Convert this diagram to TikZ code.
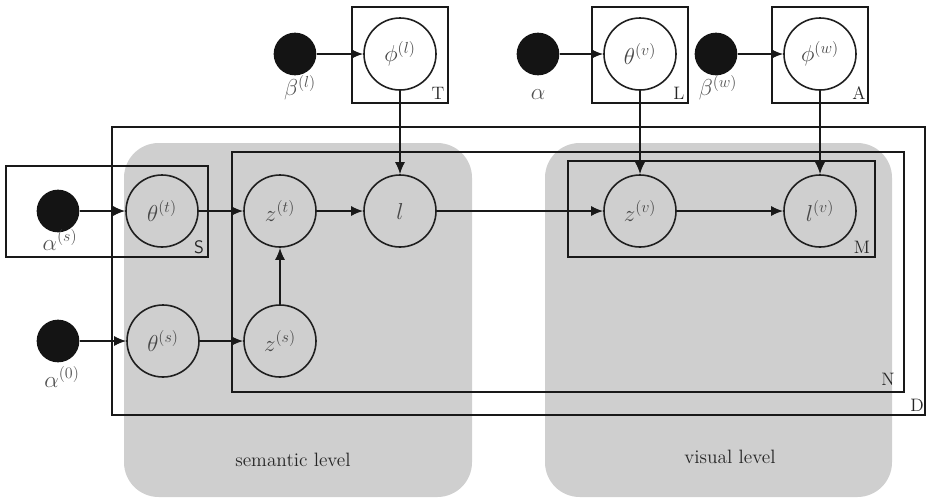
\documentclass[tikz,border=0pt]{standalone}
\usetikzlibrary{arrows.meta}
\begin{document}
\begin{tikzpicture}[x=0.75pt,y=-0.75pt,
 var/.style={circle,draw=black!88,line width=1.2pt,minimum size=54pt,inner sep=0pt,font=\fontsize{17}{19}\selectfont,text=black!72},
 hyper/.style={circle,fill=black!92,minimum size=32pt,inner sep=0pt},
 arr/.style={-{Latex[length=9pt,width=7.5pt]},line width=1.2pt,draw=black!90},
 plate/.style={draw=black!90,line width=1.05pt},
 lab/.style={font=\fontsize{17}{19}\selectfont,text=black!68},
 plab/.style={font=\fontsize{13.5}{15}\selectfont,text=black!85,inner sep=0pt},
 region/.style={fill=black!19,rounded corners=26pt},
 rlab/.style={font=\fontsize{14.5}{16}\selectfont,text=black!85}
]
\useasboundingbox (0,0) rectangle (929,497);
% shaded regions
\fill[region] (124,143) rectangle (472,497);
\fill[region] (545,143) rectangle (892,497);
\node[rlab] (semlab) at (293,460) {semantic level};
\node[rlab] (vislab) at (730,457) {visual level};
% plates
\draw[plate] (352,7) rectangle (448,103);
\draw[plate] (592,7) rectangle (688,103);
\draw[plate] (772,7) rectangle (868,103);
\draw[plate] (112,127) rectangle (925,415);
\draw[plate] (232,152) rectangle (904,392);
\draw[plate] (6,166) rectangle (208,257);
\draw[plate] (568,161) rectangle (875,257);
\node[plab] (pT) at (438,93) {T};
\node[plab] (pL) at (679,93) {L};
\node[plab] (pA) at (859,93) {A};
\node[plab] (pD) at (917,405) {D};
\node[plab] (pN) at (888,379) {N};
\node[plab,font=\fontsize{13.5}{15}\selectfont\sffamily] (pS) at (199,247) {S};
\node[plab] (pM) at (862,247) {M};
% top row
\node[hyper] (betal) at (295,54) {};
\node[var] (phil) at (400,54) {$\phi^{(l)}$};
\node[hyper] (alpha) at (538,54) {};
\node[var] (thetav) at (640,54) {$\theta^{(v)}$};
\node[hyper] (betaw) at (716,54) {};
\node[var] (phiw) at (820,54) {$\phi^{(w)}$};
\node[lab] (betallab) at (300,88) {$\beta^{(l)}$};
\node[lab] (alphalab) at (538,95) {$\alpha$};
\node[lab] (betawlab) at (718,88) {$\beta^{(w)}$};
% middle row
\node[hyper] (alphas) at (58,211) {};
\node[var] (thetat) at (162,211) {$\theta^{(t)}$};
\node[var] (zt) at (280,211) {$z^{(t)}$};
\node[var] (l) at (400,211) {$l$};
\node[var] (zv) at (640,211) {$z^{(v)}$};
\node[var] (lv) at (820,211) {$l^{(v)}$};
\node[lab] (alphaslab) at (60,240) {$\alpha^{(s)}$};
% bottom row
\node[hyper] (alpha0) at (58,341) {};
\node[var] (thetas) at (163,341) {$\theta^{(s)}$};
\node[var] (zs) at (280,341) {$z^{(s)}$};
\node[lab] (alpha0lab) at (62,377) {$\alpha^{(0)}$};
% arrows
\draw[arr] (betal) -- (phil);
\draw[arr] (alpha) -- (thetav);
\draw[arr] (betaw) -- (phiw);
\draw[arr] (phil) -- (l);
\draw[arr] (thetav) -- (zv);
\draw[arr] (phiw) -- (lv);
\draw[arr] (alphas) -- (thetat);
\draw[arr] (thetat) -- (zt);
\draw[arr] (zt) -- (l);
\draw[arr] (l) -- (zv);
\draw[arr] (zv) -- (lv);
\draw[arr] (alpha0) -- (thetas);
\draw[arr] (thetas) -- (zs);
\draw[arr] (zs) -- (zt);
\end{tikzpicture}
\end{document}
